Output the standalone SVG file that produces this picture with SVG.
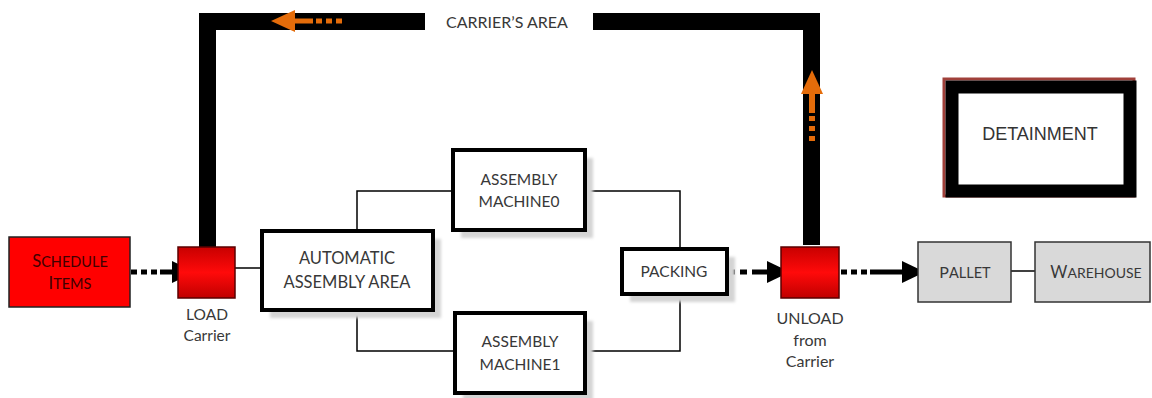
<svg xmlns="http://www.w3.org/2000/svg" width="1152" height="398" viewBox="0 0 1152 398">
<defs>
<linearGradient id="redg" x1="0" y1="0" x2="0" y2="1">
<stop offset="0" stop-color="#c80000"/>
<stop offset="0.5" stop-color="#ff0a0a"/>
<stop offset="1" stop-color="#c00000"/>
</linearGradient>
<filter id="blur" x="-10%" y="-10%" width="120%" height="120%"><feGaussianBlur stdDeviation="1.5"/></filter>
<marker id="ah" markerUnits="userSpaceOnUse" markerWidth="24" markerHeight="22" refX="23" refY="11" orient="auto">
<path d="M0,0 L23,11 L0,22 Z" fill="#000"/>
</marker>
<style>
.lbl{font-family:Lato,"Open Sans","Liberation Sans",sans-serif;fill:#383838;text-anchor:middle}
.box{fill:#fff;stroke:#000;stroke-width:4}
.shadow{fill:#d4d4d4;filter:url(#blur)}
.gray{fill:#d9d9d9;stroke:#333;stroke-width:1.5}
.red{fill:url(#redg);stroke:#5a0000;stroke-width:1.5}
.thin{fill:none;stroke:#000;stroke-width:1.5}
.dash{fill:none;stroke:#000;stroke-width:5}
.track{fill:none;stroke:#000;stroke-width:17;stroke-linejoin:miter}
.orange{fill:#e46c0a}
</style>
</defs>

<g id="carrier-area">
<path class="track" d="M207.5,247 V21.5 H425"/>
<path class="track" d="M593,21.5 H811.5 V245"/>
<polygon class="orange" points="271,21 295,10 295,32"/>
<rect class="orange" x="294" y="18.5" width="19" height="5"/>
<rect class="orange" x="316" y="18.5" width="6" height="5"/>
<rect class="orange" x="326" y="18.5" width="6" height="5"/>
<rect class="orange" x="336" y="18.5" width="6" height="5"/>
<polygon class="orange" points="812,70 801,94 823,94"/>
<rect class="orange" x="809" y="93" width="6" height="20"/>
<rect class="orange" x="809" y="116" width="6" height="5"/>
<rect class="orange" x="809" y="126" width="6" height="5"/>
<rect class="orange" x="809" y="136" width="6" height="5"/>
<text class="lbl" x="507" y="28" font-size="16">CARRIER’S AREA</text>
</g>

<g id="connectors">
<path class="thin" d="M235,268 H262"/>
<path class="thin" d="M357,231 V191 H453"/>
<path class="thin" d="M585,191 H680 V249"/>
<path class="thin" d="M357,310 V351 H455"/>
<path class="thin" d="M585,351 H680 V294"/>
<path class="thin" d="M1011,271 H1035"/>
<path class="dash" d="M131,272 H160" stroke-dasharray="6 4"/>
<path class="dash" d="M160,272 H195" marker-end="url(#ah)"/>
<path class="dash" d="M728,272 H752" stroke-dasharray="7 5"/>
<path class="dash" d="M752,272 H790" marker-end="url(#ah)"/>
<path class="dash" d="M841,272 H870" stroke-dasharray="6 4"/>
<path class="dash" d="M870,272 H925" marker-end="url(#ah)"/>
</g>

<g id="schedule-items">
<rect x="9" y="237" width="121" height="70" fill="#ff0000" stroke="#222" stroke-width="1.5"/>
<text class="lbl" x="70" y="267" style="fill:#400000"><tspan font-size="16.5">S</tspan><tspan font-size="14.5">CHEDULE</tspan></text>
<text class="lbl" x="70" y="289" style="fill:#400000"><tspan font-size="16.5">I</tspan><tspan font-size="14.5">TEMS</tspan></text>
</g>

<g id="load-carrier">
<rect class="red" x="178" y="247" width="57" height="51"/>
<text class="lbl" x="207" y="320" font-size="15.5">LOAD</text>
<text class="lbl" x="207" y="341" font-size="15.5">Carrier</text>
</g>

<g id="automatic-assembly-area">
<rect class="shadow" x="270" y="239" width="171" height="79"/>
<rect class="box" x="262" y="231" width="171" height="79"/>
<text class="lbl" x="347" y="264" font-size="16.5">AUTOMATIC</text>
<text class="lbl" x="347" y="288" font-size="16.5">ASSEMBLY AREA</text>
</g>

<g id="assembly-machine0">
<rect class="shadow" x="461" y="158" width="132" height="80"/>
<rect class="box" x="453" y="150" width="132" height="80"/>
<text class="lbl" x="519" y="185" font-size="15.5">ASSEMBLY</text>
<text class="lbl" x="519" y="207" font-size="15.5">MACHINE0</text>
</g>

<g id="assembly-machine1">
<rect class="shadow" x="463" y="321" width="130" height="80"/>
<rect class="box" x="455" y="313" width="130" height="80"/>
<text class="lbl" x="520" y="347" font-size="15.5">ASSEMBLY</text>
<text class="lbl" x="520" y="370" font-size="15.5">MACHINE1</text>
</g>

<g id="packing">
<rect class="shadow" x="630" y="257" width="105" height="45"/>
<rect class="box" x="622" y="249" width="105" height="45"/>
<text class="lbl" x="674" y="277" font-size="15.5">PACKING</text>
</g>

<g id="unload-carrier">
<rect class="red" x="781" y="247" width="58" height="51"/>
<text class="lbl" x="810" y="324" font-size="16">UNLOAD</text>
<text class="lbl" x="810" y="346" font-size="16">from</text>
<text class="lbl" x="810" y="367" font-size="16">Carrier</text>
</g>

<g id="pallet">
<rect class="gray" x="918" y="242" width="93" height="60"/>
<text class="lbl" x="965" y="278"><tspan font-size="16">P</tspan><tspan font-size="14.5">ALLET</tspan></text>
</g>

<g id="warehouse">
<rect class="gray" x="1035" y="242" width="115" height="60"/>
<text class="lbl" x="1096" y="278"><tspan font-size="16.5">W</tspan><tspan font-size="14">AREHOUSE</tspan></text>
</g>

<g id="detainment">
<rect x="944" y="79" width="190" height="117" fill="none" stroke="#a0403a" stroke-width="3"/>
<rect x="952" y="87" width="178" height="104" fill="#fff" stroke="#000" stroke-width="13"/>
<text x="1040" y="140" font-family="'Liberation Sans',Arial,sans-serif" font-size="18" fill="#333" text-anchor="middle">DETAINMENT</text>
</g>
</svg>
